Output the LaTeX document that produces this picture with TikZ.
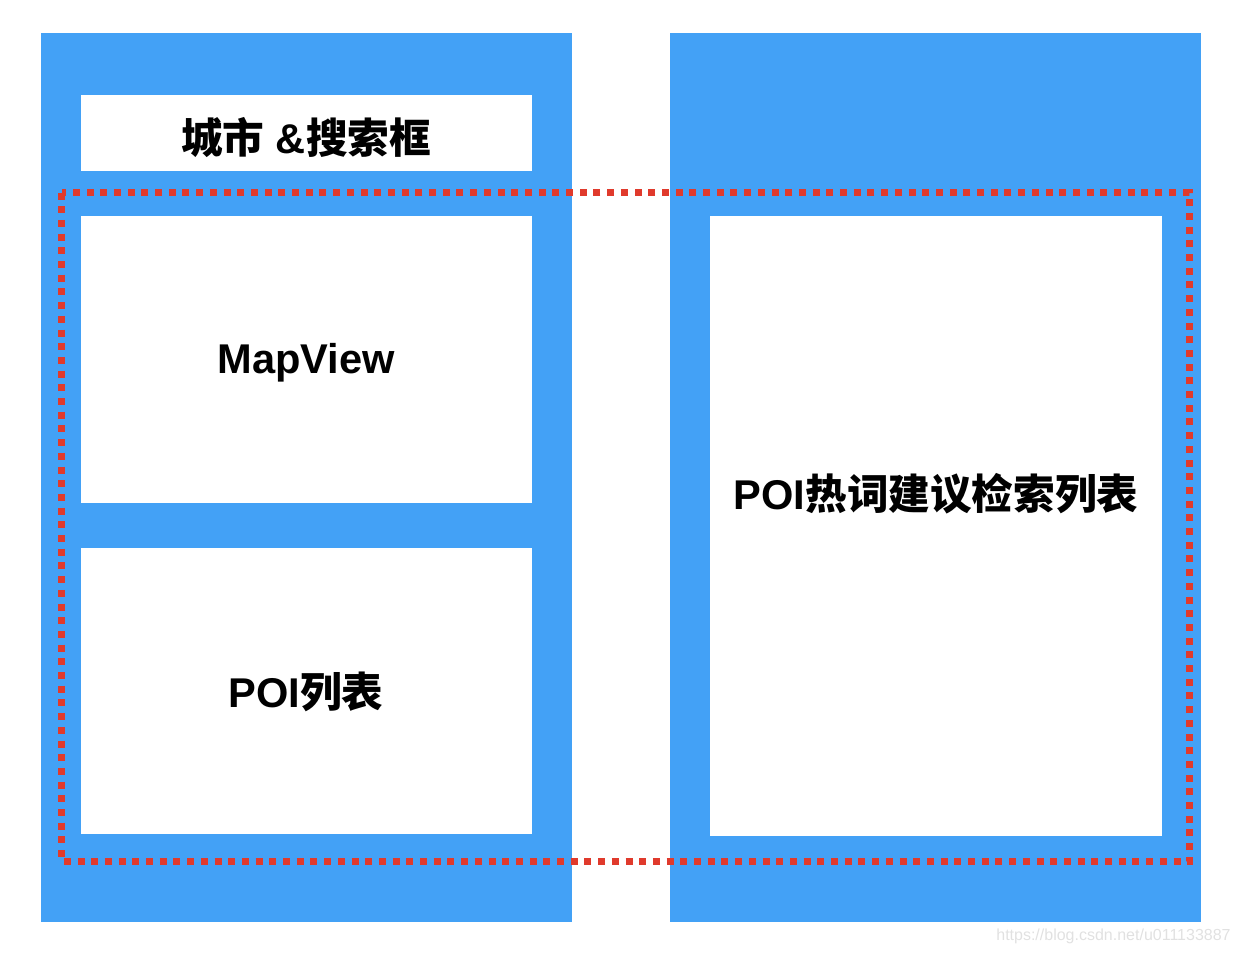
\documentclass[tikz,border=0pt]{standalone}
\usepackage{fontspec}
\setmainfont{Liberation Sans}
\newfontfamily\cjk{Noto Sans CJK SC}
\usetikzlibrary{positioning,fit}

\begin{document}
\begin{tikzpicture}[
    x=0.5pt, y=-0.5pt,
    font=\bfseries,
]

\definecolor{panelColor}{RGB}{67, 161, 246}
\definecolor{dotColor}{RGB}{224, 58, 44}
\definecolor{markColor}{RGB}{225, 225, 225}

\tikzset{
    panel/.style = {fill=panelColor},
    slot/.style = {fill=white},
    slot_label/.style = {font=\fontsize{20.8}{24}\selectfont\bfseries, text=black, inner sep=0pt},
    frame/.style = {draw=dotColor, line width=3.5pt, dash pattern=on 3.5pt off 3.35pt},
    watermark/.style = {font=\fontsize{8}{10}\selectfont, text=markColor, inner sep=0pt}
}

\useasboundingbox (0,0) rectangle (1240,954);

% =========== PANELS ===========
\fill[panel] (41,33) rectangle (572,922);
\fill[panel] (670,33) rectangle (1201,922);

% Left panel slots
\fill[slot] (81,95) rectangle (532,171);
\fill[slot] (81,216) rectangle (532,503);
\fill[slot] (81,548) rectangle (532,834);

% Right panel slot
\fill[slot] (710,216) rectangle (1162,836);

% =========== LABELS ===========
\node[slot_label] (search) at (306,138) {{\cjk 城市} \&{\cjk 搜索框}};
\node[slot_label] (mapview) at (306,363) {MapView};
\node[slot_label] (poilist) at (306,692) {POI{\cjk 列表}};
\node[slot_label] (suggest) at (936,494) {POI{\cjk 热词建议检索列表}};

% =========== DOTTED FRAME ===========
\draw[frame] (61.5,192.5) rectangle (1189.5,861.5);

% Watermark
\node[watermark, anchor=east] (mark) at (1231,936) {https://blog.csdn.net/u011133887};

\end{tikzpicture}
\end{document}
